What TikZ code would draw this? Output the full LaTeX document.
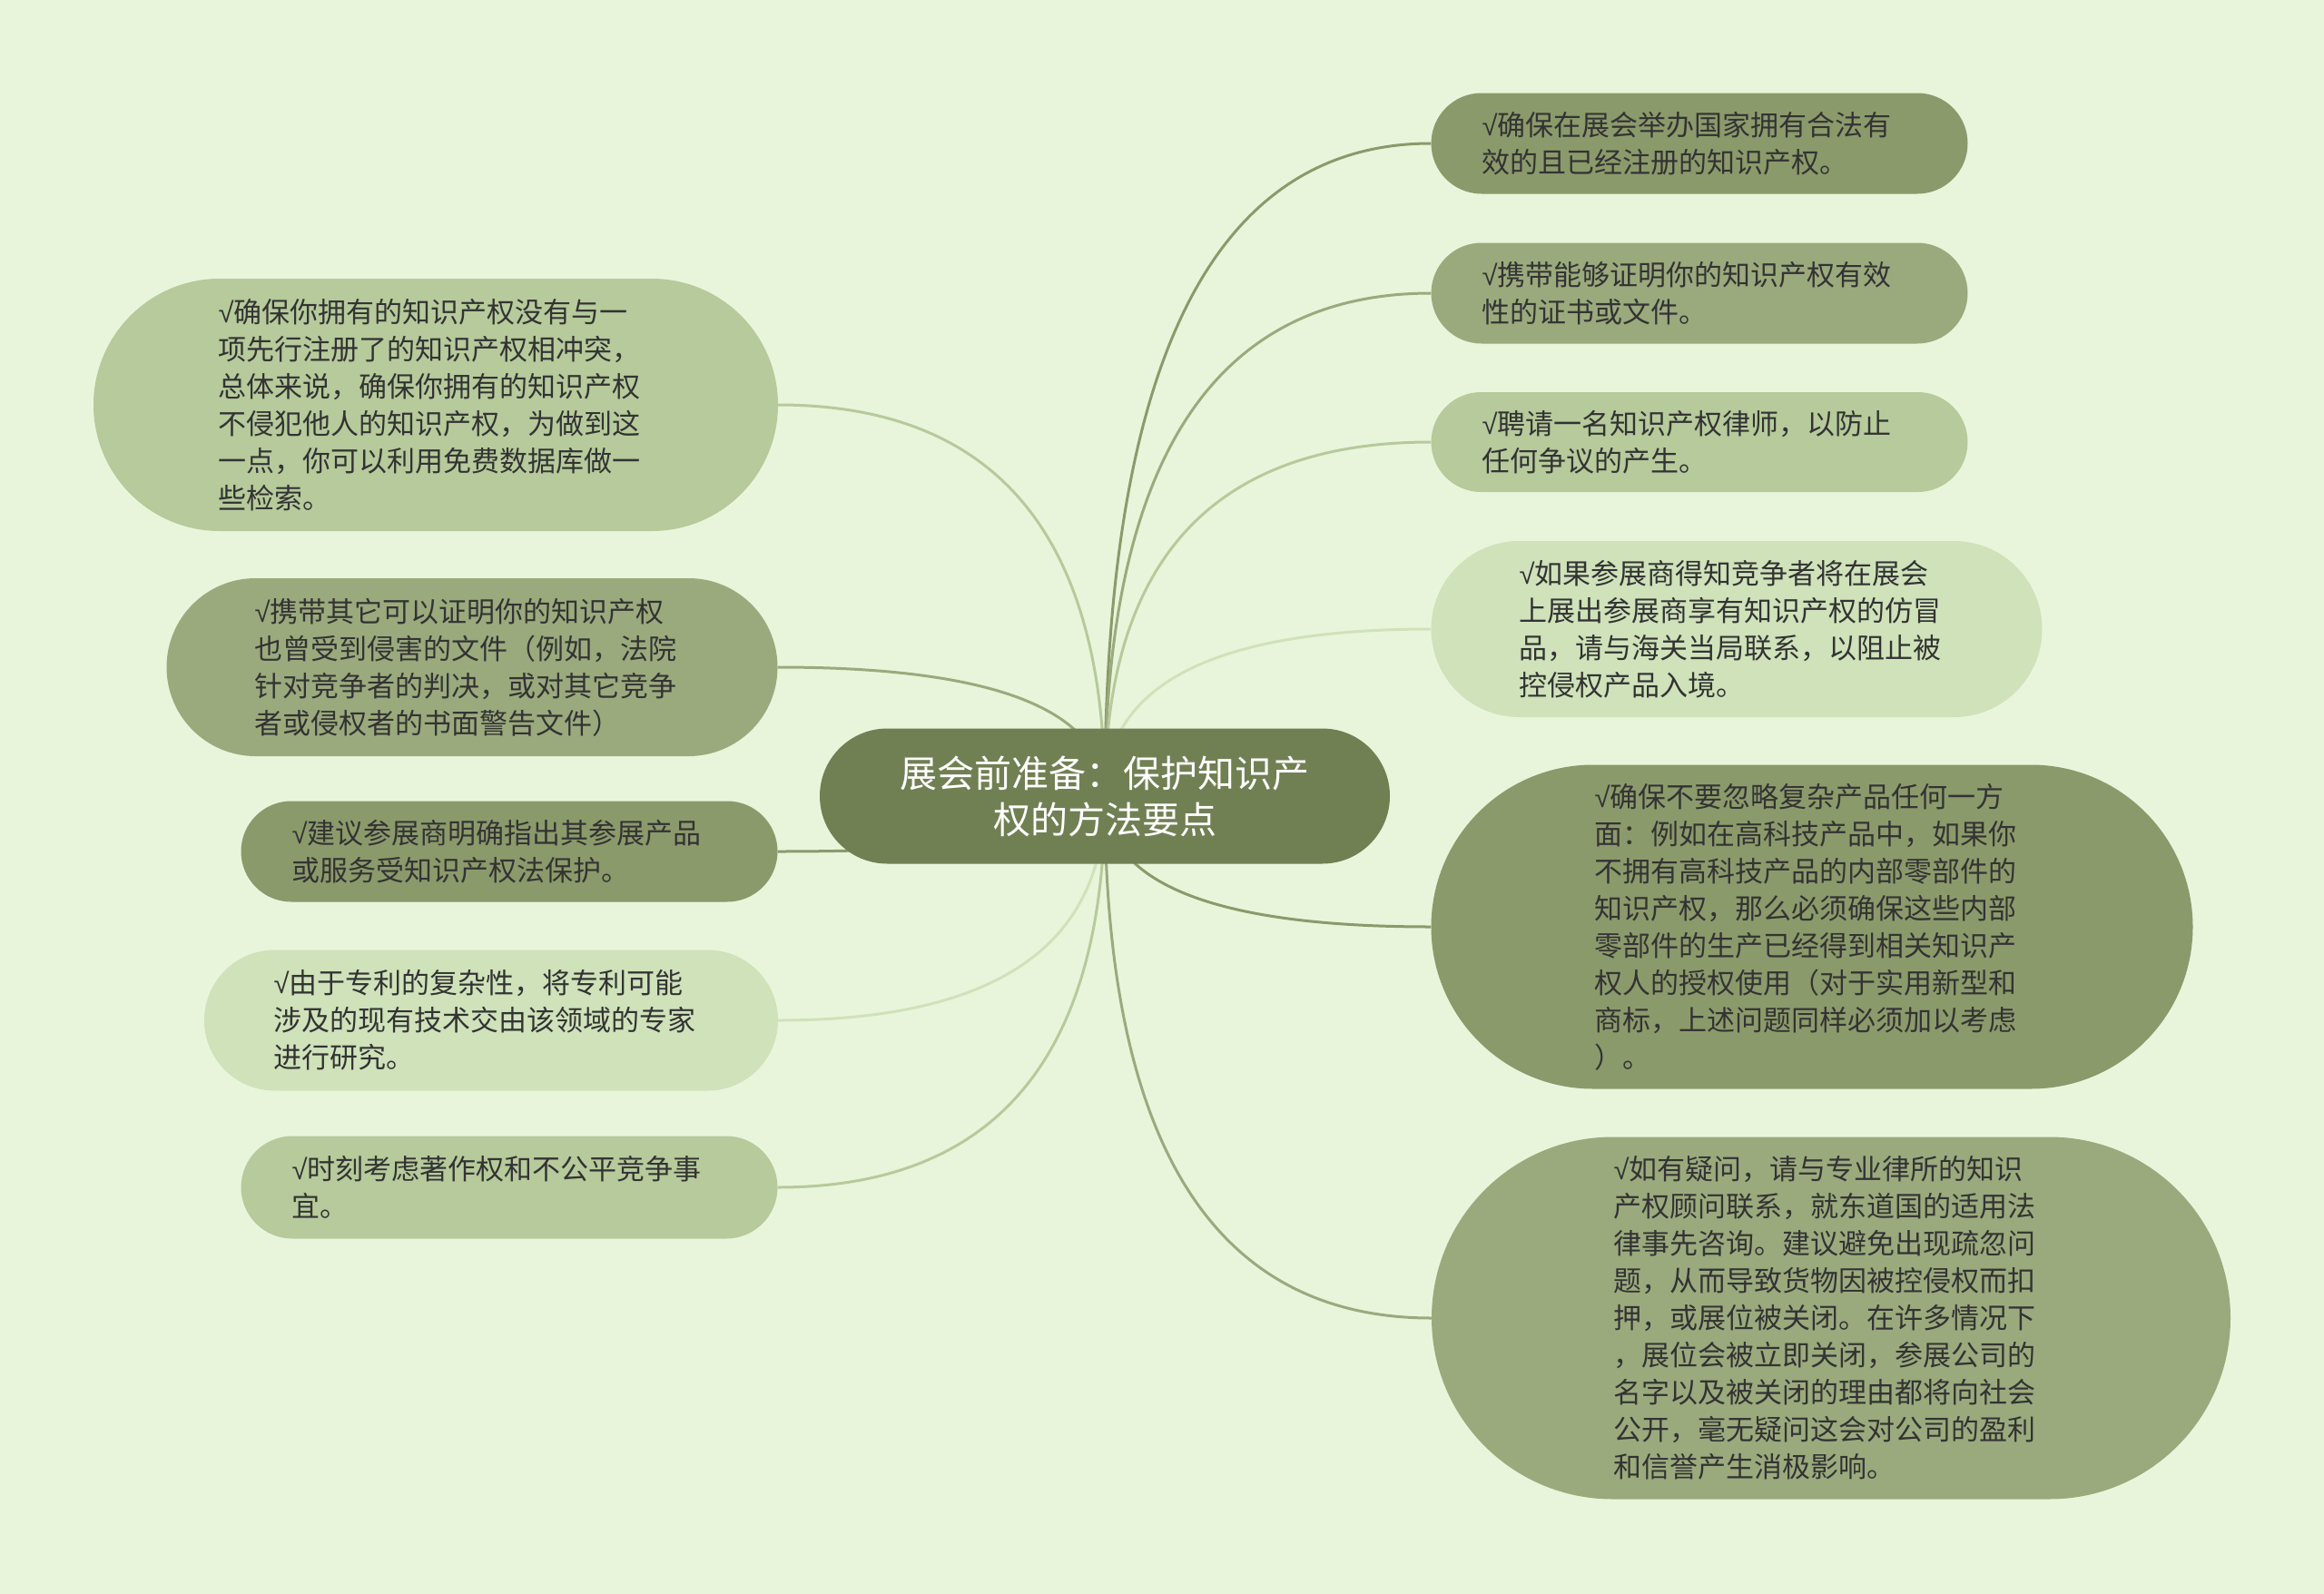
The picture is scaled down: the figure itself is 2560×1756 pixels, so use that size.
\documentclass[tikz,border=0pt]{standalone}
\usepackage{fontspec}
\setmainfont{Noto Sans CJK SC}
\newfontfamily\symfont{Liberation Sans}
\newcommand\tick{{\symfont √}}
\usetikzlibrary{shapes.misc,backgrounds,calc}

\definecolor{bgc}{HTML}{E9F5DB}
\definecolor{rootc}{HTML}{718053}
\definecolor{darkc}{HTML}{8B9A6B}
\definecolor{midc}{HTML}{9AAA7D}
\definecolor{lightc}{HTML}{B6CA9B}
\definecolor{palec}{HTML}{CFE2BA}
\definecolor{txtc}{HTML}{333333}

\tikzset{
  root/.style={rounded rectangle, fill=rootc, text=white, inner xsep=0pt, inner ysep=0pt,
    align=center, font=\fontsize{41}{51}\selectfont},
  leaf/.style={rounded rectangle, fill=#1, text=txtc, inner xsep=0pt, inner ysep=0pt,
    text width=479pt, align=left, font=\fontsize{31}{41}\selectfont},
  dims/.style 2 args={minimum width=#1pt, minimum height=#2pt},
  branch/.style={line width=3pt, draw=#1},
}

\begin{document}
\begin{tikzpicture}[x=1pt,y=-1pt]
	\useasboundingbox (0,0) rectangle (2560,1756);

	% centre
	\node[root, dims={628}{149}] (root) at (1217,877) {展会前准备：保护知识产\\权的方法要点};

	% right side
	\node[leaf=darkc, dims={591}{111}] (r1) at (1872,158) {\tick 确保在展会举办国家拥有合法有\\效的且已经注册的知识产权。};
	\node[leaf=midc, dims={591}{111}] (r2) at (1872,323) {\tick 携带能够证明你的知识产权有效\\性的证书或文件。};
	\node[leaf=lightc, dims={591}{110}] (r3) at (1872,487) {\tick 聘请一名知识产权律师，以防止\\任何争议的产生。};
	\node[leaf=palec, dims={673}{194}] (r4) at (1913,693) {\tick 如果参展商得知竞争者将在展会\\上展出参展商享有知识产权的仿冒\\品，请与海关当局联系，以阻止被\\控侵权产品入境。};
	\node[leaf=darkc, dims={839}{357}] (r5) at (1996,1021) {\tick 确保不要忽略复杂产品任何一方\\面：例如在高科技产品中，如果你\\不拥有高科技产品的内部零部件的\\知识产权，那么必须确保这些内部\\零部件的生产已经得到相关知识产\\权人的授权使用（对于实用新型和\\商标，上述问题同样必须加以考虑\\）。};
	\node[leaf=midc, dims={880}{399}] (r6) at (2017,1452) {\tick 如有疑问，请与专业律所的知识\\产权顾问联系，就东道国的适用法\\律事先咨询。建议避免出现疏忽问\\题，从而导致货物因被控侵权而扣\\押，或展位被关闭。在许多情况下\\，展位会被立即关闭，参展公司的\\名字以及被关闭的理由都将向社会\\公开，毫无疑问这会对公司的盈利\\和信誉产生消极影响。};

	% left side
	\node[leaf=lightc, dims={754}{278}] (l1) at (480,446) {\tick 确保你拥有的知识产权没有与一\\项先行注册了的知识产权相冲突，\\总体来说，确保你拥有的知识产权\\不侵犯他人的知识产权，为做到这\\一点，你可以利用免费数据库做一\\些检索。};
	\node[leaf=midc, dims={673}{196}] (l2) at (520,735) {\tick 携带其它可以证明你的知识产权\\也曾受到侵害的文件（例如，法院\\针对竞争者的判决，或对其它竞争\\者或侵权者的书面警告文件）};
	\node[leaf=darkc, dims={591}{111}] (l3) at (561,938) {\tick 建议参展商明确指出其参展产品\\或服务受知识产权法保护。};
	\node[leaf=palec, dims={632}{155}] (l4) at (541,1124) {\tick 由于专利的复杂性，将专利可能\\涉及的现有技术交由该领域的专家\\进行研究。};
	\node[leaf=lightc, dims={591}{113}] (l5) at (561,1308) {\tick 时刻考虑著作权和不公平竞争事\\宜。};

	\begin{scope}[on background layer]
		\fill[bgc] (0,0) rectangle (2560,1756);
		\foreach \tgt/\side/\col in {r1/west/darkc, r2/west/midc, r3/west/lightc, r4/west/palec,
			r5/west/darkc, r6/west/midc, l1/east/lightc, l2/east/midc, l3/east/darkc,
			l4/east/palec, l5/east/lightc}
			\draw[branch=\col] (root.center) .. controls ($(root.center)!2/3!(root.center |- \tgt.\side)$)
				and ($(\tgt.\side)!2/3!(root.center |- \tgt.\side)$) .. (\tgt.\side);
	\end{scope}
\end{tikzpicture}
\end{document}
